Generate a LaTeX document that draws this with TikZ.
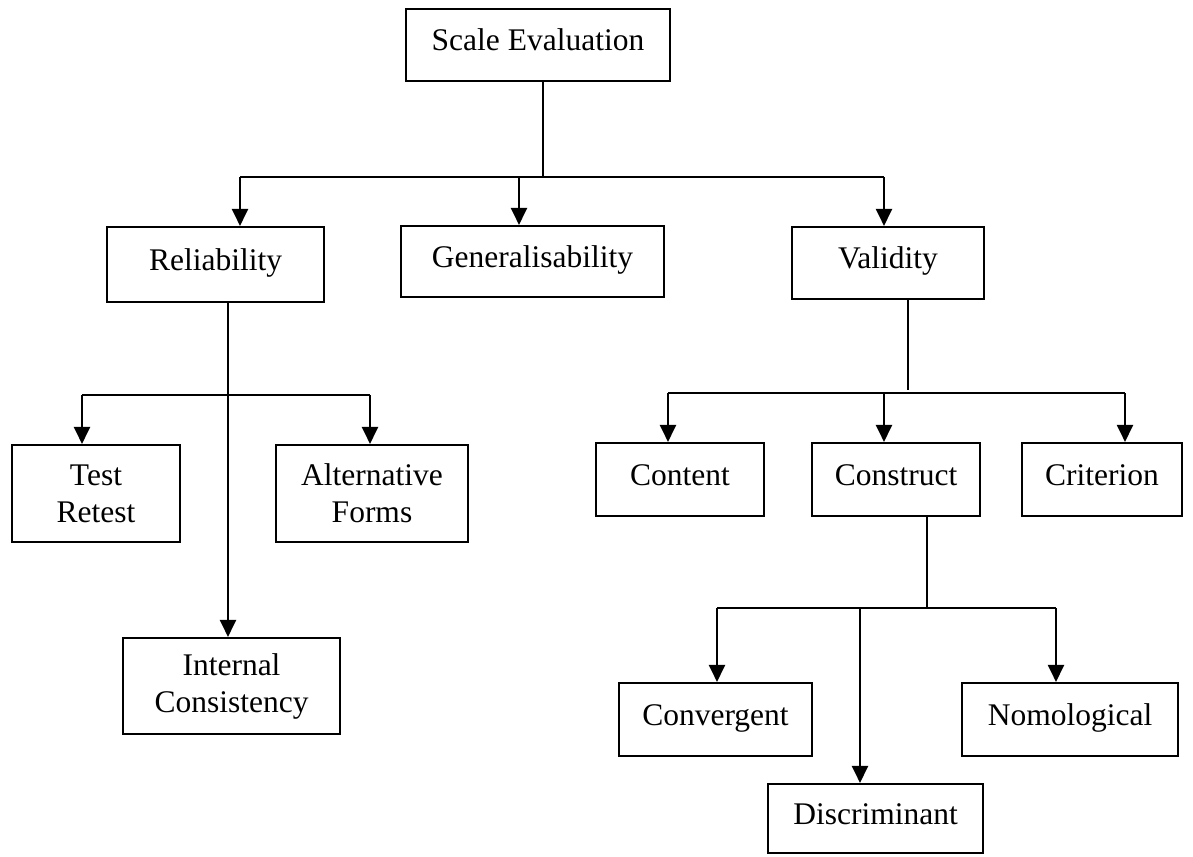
\documentclass[tikz,border=0pt]{standalone}
\usepackage{fontspec}
\setmainfont{Liberation Serif}
\usetikzlibrary{arrows.meta}
\begin{document}
\begin{tikzpicture}[x=1pt,y=-1pt,
  line width=2.1pt,
  box/.style={draw, line width=2.1pt, inner sep=0pt, align=center,
    font=\fontsize{31.5}{37}\selectfont},
  onebox/.style={box, text height=22pt, text depth=11pt},
  arr/.style={-{Triangle[width=16pt,length=17pt]}},
]
\useasboundingbox (0,0) rectangle (1193,856);

% top level
\node[onebox, minimum width=264pt, minimum height=72pt] (se) at (538,45) {Scale Evaluation};

% second level
\node[onebox, minimum width=217pt, minimum height=75pt] (rel) at (215.5,264.5) {Reliability};
\node[onebox, minimum width=263pt, minimum height=71pt] (gen) at (532.5,261.5) {Generalisability};
\node[onebox, minimum width=192pt, minimum height=72pt] (val) at (888,263) {Validity};

% reliability branch
\node[box, minimum width=168pt, minimum height=97pt] (tr) at (96,493.5) {Test\\Retest};
\node[box, minimum width=192pt, minimum height=97pt] (af) at (372,493.5) {Alternative\\Forms};
\node[box, minimum width=217pt, minimum height=96pt] (ic) at (231.5,686) {Internal\\Consistency};

% validity branch
\node[onebox, minimum width=168pt, minimum height=73pt] (con) at (680,479.5) {Content};
\node[onebox, minimum width=168pt, minimum height=73pt] (cst) at (896,479.5) {Construct};
\node[onebox, minimum width=160pt, minimum height=73pt] (cri) at (1102,479.5) {Criterion};

% construct branch
\node[onebox, minimum width=193pt, minimum height=73pt] (cvg) at (715.5,719.5) {Convergent};
\node[onebox, minimum width=216pt, minimum height=73pt] (nom) at (1070,719.5) {Nomological};
\node[onebox, minimum width=215pt, minimum height=69pt] (dis) at (875.5,818.5) {Discriminant};

% junction points of the bars
\coordinate (j0) at (543,177);
\coordinate (b0l) at (240,177);
\coordinate (b0g) at (519,177);
\coordinate (b0r) at (884,177);

\coordinate (j1) at (228,395);
\coordinate (b1l) at (82,395);
\coordinate (b1r) at (370,395);

\coordinate (j2) at (908,393);
\coordinate (b2l) at (668,393);
\coordinate (b2m) at (884,393);
\coordinate (b2r) at (1125,393);

\coordinate (j3) at (927,608);
\coordinate (b3l) at (717,608);
\coordinate (b3m) at (860,608);
\coordinate (b3r) at (1056,608);

% scale evaluation -> three criteria
\draw (se.south -| j0) -- (j0);
\draw (b0l) -- (b0r);
\draw[arr] (b0l) -- (b0l |- rel.north);
\draw[arr] (b0g) -- (b0g |- gen.north);
\draw[arr] (b0r) -- (b0r |- val.north);

% reliability -> forms
\draw[arr] (rel.south -| j1) -- (ic.north -| j1);
\draw (b1l) -- (b1r);
\draw[arr] (b1l) -- (b1l |- tr.north);
\draw[arr] (b1r) -- (b1r |- af.north);

% validity -> kinds
\draw (val.south -| j2) -- ([yshift=3pt]j2);
\draw (b2l) -- (b2r);
\draw[arr] (b2l) -- (b2l |- con.north);
\draw[arr] (b2m) -- (b2m |- cst.north);
\draw[arr] (b2r) -- (b2r |- cri.north);

% construct -> kinds
\draw (cst.south -| j3) -- (j3);
\draw (b3l) -- (b3r);
\draw[arr] (b3l) -- (b3l |- cvg.north);
\draw[arr] (b3m) -- (b3m |- dis.north);
\draw[arr] (b3r) -- (b3r |- nom.north);
\end{tikzpicture}
\end{document}
